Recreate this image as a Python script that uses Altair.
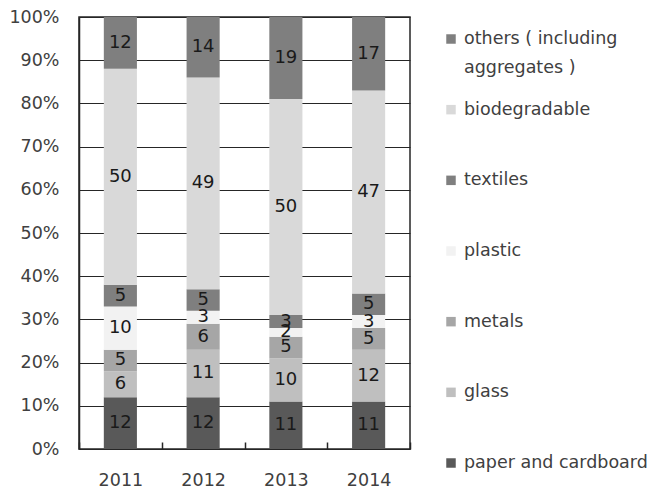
import altair as alt
import pandas as pd

years = ["2011", "2012", "2013", "2014"]
categories = ["paper and cardboard", "glass", "metals", "plastic", "textiles",
              "biodegradable", "others ( including aggregates )"]
paper = [12, 12, 11, 11]
glass = [6, 11, 10, 12]
metals = [5, 6, 5, 5]
plastic = [10, 3, 2, 3]
textiles = [5, 5, 3, 5]
biodegradable = [50, 49, 50, 47]
others = [12, 14, 19, 17]
colors = ["#595959", "#bfbfbf", "#a6a6a6", "#f2f2f2", "#7f7f7f", "#d9d9d9", "#7f7f7f"]
y_ticks = [0, 0.1, 0.2, 0.3, 0.4, 0.5, 0.6, 0.7, 0.8, 0.9, 1.0]
legend_order = list(reversed(categories))
legend_line1 = ["others ( including", "biodegradable", "textiles", "plastic",
                "metals", "glass", "paper and cardboard"]
legend_line2 = ["aggregates )", "", "", "", "", "", ""]

series = [paper, glass, metals, plastic, textiles, biodegradable, others]
rows = []
for ci, (cat, vals) in enumerate(zip(categories, series)):
    for yr, v in zip(years, vals):
        rows.append({"year": yr, "category": cat, "value": v, "order": ci})
df = pd.DataFrame(rows)

legdf = pd.DataFrame({"category": legend_order, "line1": legend_line1, "line2": legend_line2})

W, H = 331, 432
FONT = "DejaVu Sans"
GRID = "#262626"
color_enc = alt.Color("category:N", scale=alt.Scale(domain=categories, range=colors), legend=None)

base = alt.Chart(df)
xenc = alt.X("year:N", sort=years,
             scale=alt.Scale(paddingInner=0, paddingOuter=0),
             axis=alt.Axis(title=None, labelAngle=0, ticks=True, tickBand="extent",
                           tickSize=7, tickColor=GRID, tickWidth=1.5, offset=-7, domain=False,
                           labelPadding=22, labelFontSize=17.5,
                           labelColor="#404040", labelFont=FONT, zindex=1))

bars = base.mark_bar(width=alt.RelativeBandSize(0.4)).encode(
    x=xenc,
    y=alt.Y("value:Q", stack="normalize",
            scale=alt.Scale(domain=[0, 1], nice=False),
            axis=alt.Axis(title=None, values=y_ticks, format=".0%", ticks=False,
                          domain=True, domainColor=GRID, domainWidth=1.5, grid=True,
                          gridColor=GRID, gridWidth=1.2, gridOpacity=1, labelPadding=20,
                          labelFontSize=17.5, labelColor="#404040", labelFont=FONT)),
    color=color_enc,
    order=alt.Order("order:Q"),
)

labels = base.transform_stack(
    as_=["y0", "y1"], stack="value", groupby=["year"],
    offset="normalize", sort=[alt.SortField("order", order="ascending")]
).transform_calculate(
    mid="(datum.y0 + datum.y1) / 2"
).mark_text(fontSize=18, color="#1a1a1a", font=FONT, baseline="middle").encode(
    x=alt.X("year:N", sort=years),
    y=alt.Y("mid:Q"),
    text=alt.Text("value:Q"),
)

main = alt.layer(bars, labels)

leg = alt.Chart(legdf)
ly = alt.Y("category:N", sort=legend_order,
           scale=alt.Scale(type="point", range=[22, 446], padding=0), axis=None)
sq = leg.mark_square(size=90, opacity=1).encode(x=alt.value(372), y=ly, color=color_enc)
t1 = leg.mark_text(align="left", baseline="middle", fontSize=17.5, color="#404040",
                   font=FONT).encode(x=alt.value(385), y=ly, text="line1:N")
t2 = leg.mark_text(align="left", baseline="middle", fontSize=17.5, color="#404040",
                   font=FONT, dy=29).encode(x=alt.value(385), y=ly, text="line2:N")
legend = alt.layer(sq, t1, t2)

chart = alt.layer(main, legend).resolve_scale(y="independent").properties(
    width=W, height=H, padding=0
).configure(font=FONT).configure_view(stroke=GRID, strokeWidth=1.5)

chart.save("out.html", embed_options={"renderer": "svg", "actions": False})
